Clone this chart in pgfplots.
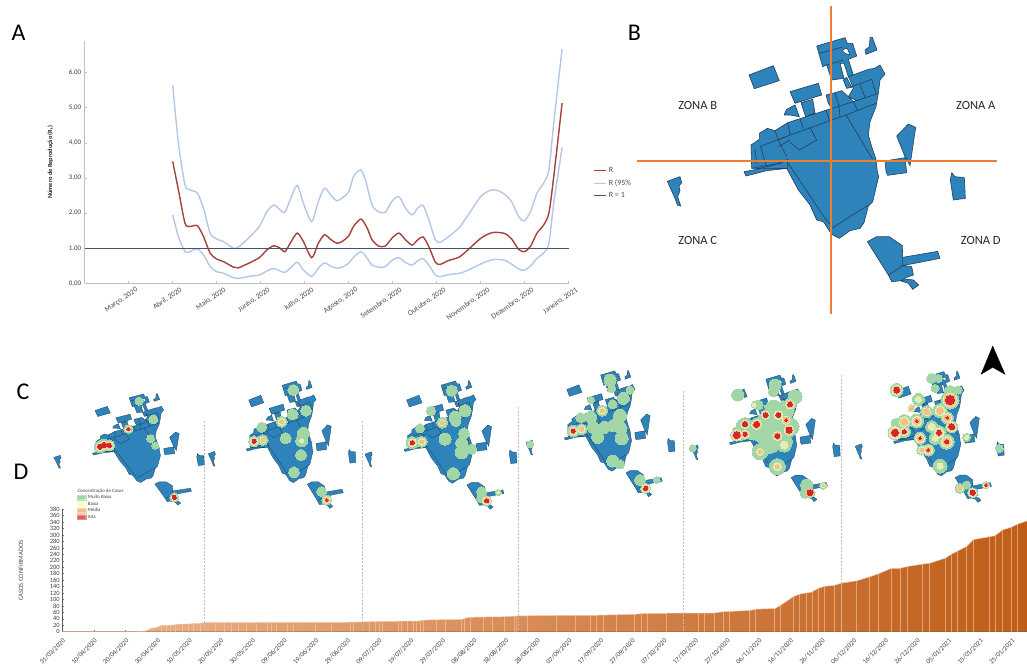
\documentclass[border=0pt]{standalone}
\usepackage{fontspec}
\setmainfont{Carlito}
\usepackage{pgfplots}
\usepackage{pgfplotstable}
\pgfplotsset{compat=1.18}

\definecolor{rred}{HTML}{A5403C}
\definecolor{rblue}{HTML}{B4C7E7}
\definecolor{rone}{HTML}{44546A}
\definecolor{axgrey}{HTML}{BFBFBF}
\definecolor{mapblue}{HTML}{2E83BA}
\definecolor{mapline}{HTML}{22405A}
\definecolor{zoneor}{HTML}{ED7D31}
\definecolor{heatg}{HTML}{A3D6A7}
\definecolor{heaty}{HTML}{E4EDB3}
\definecolor{heato}{HTML}{F3C08A}
\definecolor{heatr}{HTML}{D5272B}
\definecolor{legendy}{HTML}{FBFBC4}
\definecolor{legendr}{HTML}{E4595F}
\definecolor{caselight}{HTML}{EFB68E}
\definecolor{casedark}{HTML}{BF5D18}
\definecolor{casecomb}{HTML}{F3C9A8}

% panel A: month index, value
\pgfplotstableread{
x y
2 3.47
2.13 2.66
2.28 1.71
2.39 1.62
2.56 1.64
2.70 1.33
2.85 0.86
3.0 0.69
3.15 0.62
3.38 0.46
3.49 0.44
3.76 0.59
3.98 0.74
4.14 0.95
4.30 1.07
4.44 1.0
4.55 0.90
4.67 1.14
4.83 1.43
4.97 1.19
5.16 0.73
5.31 1.14
5.45 1.38
5.60 1.24
5.73 1.14
5.85 1.19
6.0 1.35
6.11 1.62
6.28 1.83
6.42 1.57
6.53 1.24
6.68 1.06
6.83 1.06
6.98 1.28
7.14 1.43
7.29 1.24
7.44 1.09
7.57 1.24
7.69 1.32
7.82 1.05
7.97 0.60
8.08 0.54
8.27 0.65
8.50 0.74
8.69 0.93
9.0 1.28
9.22 1.43
9.37 1.45
9.56 1.41
9.71 1.25
9.86 0.97
9.99 0.90
10.13 1.05
10.28 1.43
10.43 1.66
10.55 2.0
10.66 3.04
10.85 5.13
}\tableR
\pgfplotstableread{
x y
2 5.64
2.13 3.99
2.28 2.80
2.39 2.66
2.56 2.57
2.70 2.14
2.85 1.43
3.0 1.26
3.15 1.19
3.38 1.0
3.49 1.03
3.76 1.33
3.98 1.64
4.14 2.04
4.30 2.23
4.44 2.09
4.55 2.02
4.67 2.38
4.83 2.79
4.97 2.28
5.16 1.76
5.31 2.33
5.45 2.71
5.60 2.50
5.73 2.35
5.85 2.43
6.0 2.61
6.11 3.04
6.27 3.23
6.38 2.95
6.53 2.23
6.68 2.04
6.83 2.02
6.98 2.33
7.14 2.47
7.29 2.14
7.44 1.95
7.57 2.14
7.69 2.22
7.82 1.81
7.97 1.24
8.08 1.17
8.27 1.33
8.50 1.57
8.69 1.90
9.0 2.47
9.22 2.65
9.37 2.65
9.56 2.52
9.71 2.31
9.86 1.90
9.99 1.78
10.13 2.04
10.28 2.57
10.43 2.85
10.55 3.23
10.66 4.56
10.85 6.67
}\tableUp
\pgfplotstableread{
x y
2 1.95
2.13 1.33
2.28 0.90
2.39 0.90
2.56 0.98
2.70 0.81
2.85 0.48
3.0 0.33
3.15 0.29
3.38 0.16
3.49 0.14
3.76 0.20
3.98 0.24
4.14 0.35
4.30 0.42
4.44 0.35
4.55 0.31
4.67 0.43
4.83 0.60
4.97 0.38
5.16 0.20
5.31 0.43
5.45 0.58
5.60 0.48
5.73 0.43
5.85 0.46
6.0 0.57
6.11 0.74
6.28 0.90
6.42 0.71
6.53 0.52
6.68 0.46
6.83 0.47
6.98 0.65
7.14 0.73
7.29 0.59
7.44 0.52
7.57 0.64
7.69 0.70
7.82 0.52
7.97 0.24
8.08 0.19
8.27 0.25
8.50 0.28
8.69 0.36
9.0 0.55
9.22 0.66
9.37 0.68
9.56 0.65
9.71 0.54
9.86 0.41
9.99 0.37
10.13 0.49
10.28 0.71
10.43 0.86
10.55 1.14
10.66 2.28
10.85 3.87
}\tableLow

% panel D: days since 31/03/2020, confirmed cases
\pgfplotstableread{
d c
0 0
23 0
26.3 2
28.2 11
29.8 13
31.2 19
35.6 21
36.1 23
39.8 24
43.5 26
44.8 28
73 29
88 29
94.8 30
100.4 32
112.5 33
114.1 36
118.3 37
126.2 38
128.3 44.5
133 45.5
139.9 46.6
143.6 48.7
149.9 50
168.8 51
181 54
183.1 56
195.2 58
205.7 58
208.9 62
217.3 66
219.4 70
225.2 72
226.8 81
231 109
233.1 117
236.8 123
238.9 135
241 141
244 144
246.3 151
251 158
254.7 169
257.9 180
262.1 197
264.7 197
267.3 203
274.2 213
278.9 228
281 241
285.8 265
287.9 286
294.7 298
297.1 316
300 325
301.8 334
304.8 344
}\tableCases
\pgfplotstableread{
d c
31.2 19
32.8 19
34 20
35.6 21
38 23.5
39.8 24
41.4 25
43.5 26
48.3 28
51.1 28
53.5 28
55.6 28
58.3 28
61.2 28
64.9 28
66.2 28
67.8 28
71.1 29
73 29
79.9 29
85.1 29
90.9 29
91.9 29
96.9 30
99 31
100.1 32
101.2 32
106.3 32
107.2 32
109.1 32
110.9 33
111.9 33
113 34
114 36
118.2 37
120.9 37
126.1 38
126.9 40
129 44.5
133 45.5
135.9 46
139.8 46.6
142.7 48
143.5 48.7
146.9 49
156 50
162 50.5
167 51
168.8 51
170.9 51.5
175.1 52
180.9 54
183 56
184.8 56.5
190.9 57
201 58
202.9 58
206 59
208.9 62
210.8 63
217.1 66
219 70
225 72
226.8 81
231 109
232.9 116
235 120
237 123
238.9 135
240.8 141
244 144
246.1 151
251 158
255 169
257.9 180
261.9 197
264.7 197
267 203
271.8 208
274 213
279.1 228
281 241
282.8 250
285.8 265
287.9 286
292.9 295
294.7 298
297 316
300 325
301.8 334
}\tableSteps

% map outlines, traced at 3x in panel B (nan = next polygon)
\pgfplotstableread{
x y
335 505
333 435
358 418
358 400
382 385
405 392
443 368
480 356
560 330
640 305
715 280
708 320
690 365
685 405
695 440
708 478
712 515
716 530
698 605
685 618
672 668
660 685
630 692
612 705
598 715
575 703
550 665
530 660
510 615
475 570
440 505
335 505
nan nan
312 515
350 508
400 495
443 480
443 505
380 512
318 528
312 515
nan nan
625 230
685 208
703 205
720 195
735 222
720 240
715 280
650 302
625 290
640 265
630 240
625 230
nan nan
558 285
585 278
605 272
625 290
640 305
575 325
565 310
558 285
nan nan
450 275
535 250
545 285
465 310
450 275
nan nan
483 308
518 298
525 338
497 350
483 308
nan nan
432 345
440 328
465 315
478 350
450 345
432 345
nan nan
327 225
400 197
418 242
343 266
327 225
nan nan
530 138
615 113
622 130
638 130
650 168
625 178
640 225
625 230
612 190
600 190
612 235
575 240
560 195
548 200
530 138
nan nan
620 232
635 262
620 265
610 240
620 232
nan nan
690 112
697 112
711 150
678 163
675 150
688 140
690 112
nan nan
770 408
805 372
827 382
810 497
795 470
770 408
nan nan
735 483
795 473
800 518
743 526
738 515
735 483
nan nan
935 518
945 530
973 533
976 595
940 600
931 540
935 518
nan nan
82 544
120 530
125 548
117 558
120 572
113 590
122 618
112 615
105 595
82 544
nan nan
682 725
710 710
748 710
787 737
788 772
893 754
900 775
788 797
815 800
820 825
800 832
785 842
755 845
745 825
682 725
nan nan
780 842
803 838
820 840
836 855
818 868
805 850
780 842
}\tableMap
% inner boundaries
\pgfplotstableread{
x y
360 440
450 405
570 362
618 345
708 310
nan nan
480 356
490 385
nan nan
618 345
698 478
nan nan
440 483
555 655
570 672
nan nan
575 685
685 615
nan nan
452 428
478 450
530 420
510 382
nan nan
405 392
415 420
440 470
nan nan
415 420
450 405
443 368
nan nan
415 440
450 420
nan nan
345 448
350 490
nan nan
362 440
378 497
nan nan
335 505
378 497
420 490
443 478
nan nan
558 330
568 362
nan nan
597 318
600 350
nan nan
640 305
652 330
nan nan
630 262
695 238
nan nan
660 255
675 292
nan nan
695 238
708 280
nan nan
585 278
597 318
nan nan
537 160
605 142
nan nan
560 195
610 180
nan nan
745 825
788 797
788 772
}\tableInner
\pgfplotstableread{
x y
605 150
622 145
630 165
615 160
605 150
}\tableHole

% case concentration spots, x y at 3x crop scale, radii of the four levels
\pgfplotstableread{
x y g w o r
297 93 4 0 0 0
340 148 4.5 0 0 0
265 177 4.5 2.8 2 1.7
180 230 6 4 3 2.5
192 225 6 4 3 2.5
208 226 5.5 4 3 2
332 206 4 0 0 0
346 227 3.5 0 0 0
403 382 4.5 3 2.2 2
}\spotsA
\pgfplotstableread{
x y g w o r
760 60 5.5 0 0 0
758 133 5.5 0 0 0
798 122 5.5 0 0 0
725 155 5.5 3.5 2 0
665 172 5 0 0 0
642 214 5.5 4 3 2
668 210 5.5 3 2 0
737 205 5.5 0 0 0
790 190 6 0 0 0
785 212 6 2 0 0
783 255 5.5 0 0 0
762 307 5.5 0 0 0
845 365 5 0 0 0
860 390 5 3.5 2.5 1.5
}\spotsB
\pgfplotstableread{
x y g w o r
275 47 5.5 0 0 0
213 108 4.5 0 0 0
247 143 5.5 3 2 0
285 127 6 0 0 0
287 140 5 0 0 0
315 107 6 0 0 0
255 192 6 0 0 0
180 160 4.5 0 0 0
157 203 6 4 3 2
185 200 5.5 3.5 2 0
312 175 5.5 0 0 0
305 205 6 0 0 0
305 232 6.5 0 0 0
335 222 5 0 0 0
280 296 6 0 0 0
365 350 5 0 0 0
380 377 5 4 3 2
415 352 3 1.5 0 0
362 370 4 0 0 0
}\spotsC
\pgfplotstableread{
x y g w o r
285 15 6 0 0 0
290 40 4 0 0 0
325 70 6 0 0 0
345 45 4 0 0 0
228 75 3.5 0 0 0
262 107 5.5 3.5 2 0
293 88 4.5 0 0 0
227 127 6 0 0 0
197 128 5 0 0 0
175 168 6 4 3 2
200 163 5.5 3.5 2 0
235 157 6 0 0 0
268 157 6 0 0 0
295 152 6 0 0 0
315 122 6.5 0 0 0
318 160 6 0 0 0
320 190 6.5 0 0 0
248 187 6 0 0 0
293 258 6 0 0 0
315 268 4.5 0 0 0
45 208 3.5 0 0 0
375 315 5.5 0 0 0
392 340 5 4 3 2
425 315 3.5 0 0 0
}\spotsD
\pgfplotstableread{
x y g w o r
255 45 6 0 0 0
250 65 5 0 0 0
143 75 6 0 0 0
205 105 5 0 0 0
285 120 9 0 0 0
315 80 7 0 0 0
250 115 8 0 0 0
300 170 9 0 0 0
230 160 11 0 0 0
190 180 10 0 0 0
260 170 10 0 0 0
165 170 9 0 0 0
148 190 7.5 0 0 0
240 220 10 0 0 0
280 215 9 0 0 0
220 190 10 0 0 0
210 245 8 3.5 2 0
283 225 7 4 0 0
262 290 8 4 2 0
350 345 6 0 0 0
345 370 5 0 0 0
300 103 6 4.5 3.5 2.5
227 135 5.5 4 3 2.5
265 135 6 4.5 3 2.5
200 163 6 5 4 3
165 162 6 4 3 2.5
140 195 6 5.5 4.5 3.5
165 193 5 4 3 2
288 150 6 4 3 1.5
297 180 7 5 4 3
262 198 6 4.5 3.5 2.5
193 105 3 2 0 0
360 368 5 4 4 3
400 347 3.5 2 1 0
8 235 3.5 0 0 0
}\spotsE
\pgfplotstableread{
x y g w o r
110 60 6.5 5 4 3
270 90 9 7 6 4.5
215 25 5 0 0 0
235 25 4 0 0 0
225 55 4 0 0 0
270 65 6 0 0 0
175 88 6 3 0 0
295 60 4 0 0 0
155 115 3.5 3 2 0
200 125 6 4 3 0
240 122 7 5 3.5 0
262 143 6 4.5 3.5 1.5
275 170 6 5 4 3
170 153 7 5 3.5 1.5
133 155 7 5 3.5 0
105 188 7 6 4.5 3.5
133 185 6 4 3 2
108 160 5 0 0 0
237 188 7 5 3.5 2.5
215 170 6 3.5 0 0
180 205 6 4.5 3 1.5
260 215 7.5 5.5 4 2
225 205 6 3 0 0
185 240 5 3.5 2 0
205 240 6 4.5 3 1.5
240 288 7 3 0 0
300 355 5 3 2 0
338 368 5 4 3 2.5
378 345 3.5 2.5 2 1.5
320 345 4 0 0 0
320 202 4 2 0 0
418 235 4 0 0 0
}\spotsF

% #1 ox, #2 oy, #3 sx, #4 sy, #5 line width
\newcommand{\drawmap}[5]{%
  \addplot[unbounded coords=jump, fill=mapblue, draw=mapline, line width=#5pt, no markers]
    table[x expr=#1+#3*\thisrow{x}/3, y expr=#2+#4*\thisrow{y}/3] {\tableMap};
  \addplot[unbounded coords=jump, draw=mapline, line width=#5pt, no markers]
    table[x expr=#1+#3*\thisrow{x}/3, y expr=#2+#4*\thisrow{y}/3] {\tableInner};
  \addplot[fill=white, draw=mapline, line width=#5pt, no markers]
    table[x expr=#1+#3*\thisrow{x}/3, y expr=#2+#4*\thisrow{y}/3] {\tableHole};
}
% #1 table, #2 ox, #3 oy, #4 column, #5 colour
\newcommand{\heatlayer}[5]{%
  \addplot[scatter, only marks, mark=*, unbounded coords=discard,
    scatter/use mapped color={draw=#5, fill=#5, line width=0pt},
    visualization depends on={\thisrow{#4} \as \spotr},
    scatter/@pre marker code/.append style={/tikz/mark size=\spotr}]
    table[x expr=#2+\thisrow{x}/3, y expr={\thisrow{#4}>0 ? #3+\thisrow{y}/3 : nan}] {#1};
}
\newcommand{\heat}[3]{%
  \heatlayer{#1}{#2}{#3}{g}{heatg}
  \heatlayer{#1}{#2}{#3}{w}{heaty}
  \heatlayer{#1}{#2}{#3}{o}{heato}
  \heatlayer{#1}{#2}{#3}{r}{heatr}
}
\newcommand{\swatch}[2]{%
  \addplot[fill=#2, draw=#2!70!white, line width=.2pt, no markers] coordinates
    {(77.3,#1-2.3) (85.7,#1-2.3) (85.7,#1+2.3) (77.3,#1+2.3) (77.3,#1-2.3)};
}

\begin{document}
\begin{tikzpicture}[x=1pt,y=1pt]
\useasboundingbox (0,0) rectangle (1027,665);

% panel A
\begin{axis}[
    at={(84.7pt,381.7pt)}, anchor=south west,
    scale only axis, width=484pt, height=242.3pt,
    xmin=0, xmax=11, ymin=0, ymax=6.9,
    axis x line*=bottom, axis y line*=left,
    axis line style={axgrey, line width=1pt, -},
    tick style={axgrey, line width=.6pt},
    major tick length=2.5pt,
    xtick={0,1,...,11},
    xticklabels={{},{Março, 2020},{Abril, 2020},{Maio, 2020},{Junho, 2020},{Julho, 2020},{Agosto, 2020},{Setembro, 2020},{Outubro, 2020},{Novembro, 2020},{Dezembro, 2020},{Janeiro, 2021}},
    xticklabel style={rotate=35, anchor=north east, xshift=7pt, yshift=-3pt, font=\fontsize{7.5}{8}\selectfont, text=black!70},
    ytick={0,1,...,6},
    yticklabel style={font=\fontsize{7}{8}\selectfont, text=black!75},
    /pgf/number format/.cd, use comma, fixed, fixed zerofill, precision=2, assume math mode=true, /pgfplots/.cd,
    ylabel={\textbf{Número de Reprodução (R\textsubscript{t})}},
    ylabel style={font=\fontsize{6.3}{7}\selectfont, text=black!85, at={(axis description cs:-0.058,0.5)}, anchor=south},
    clip=false,
    legend style={at={(axis cs:11.55,3.36)}, anchor=north west, draw=none, fill=none, font=\fontsize{8}{9}\selectfont, text=black!70, inner sep=0pt, row sep=1.5pt},
    legend cell align=left,
    legend image code/.code={\draw[#1, line width=1.2pt] (0pt,0pt) -- (12.5pt,0pt);},
]
\addplot[rred, line width=1.4pt, smooth, tension=0.45, no markers] table[x=x,y=y] {\tableR};
\addlegendentry{R}
\addplot[rblue, line width=1.4pt, smooth, tension=0.45, no markers] table[x=x,y=y] {\tableUp};
\addlegendentry{R (95\%}
\addplot[rblue, line width=1.4pt, smooth, tension=0.45, no markers, forget plot] table[x=x,y=y] {\tableLow};
\addplot[rone, line width=1.2pt, no markers] coordinates {(0,1) (11,1)};
\addlegendentry{R = 1}
\end{axis}

% panel D
\begin{axis}[
    at={(62.3pt,33.3pt)}, anchor=south west,
    scale only axis, width=964.7pt, height=122.4pt,
    xmin=0, xmax=304.8, ymin=0, ymax=380,
    axis x line*=bottom, axis y line*=left,
    axis line style={black!65, line width=.8pt, -},
    tick style={black!55, line width=.5pt},
    major tick length=2pt,
    xtick={0,10,...,300},
    xticklabels={31/03/2020,10/04/2020,20/04/2020,30/04/2020,10/05/2020,20/05/2020,30/05/2020,09/06/2020,19/06/2020,29/06/2020,09/07/2020,19/07/2020,29/07/2020,08/08/2020,18/08/2020,28/08/2020,07/09/2020,17/09/2020,27/09/2020,07/10/2020,17/10/2020,27/10/2020,06/11/2020,16/11/2020,26/11/2020,06/12/2020,16/12/2020,26/12/2020,05/01/2021,15/01/2021,25/01/2021},
    xticklabel style={rotate=45, anchor=north east, xshift=-1pt, yshift=-1pt, font=\fontsize{6.8}{8}\selectfont, text=black!75},
    ytick={0,20,...,380},
    yticklabel style={font=\fontsize{6.5}{7}\selectfont, text=black!75, xshift=1pt},
    /pgf/number format/assume math mode=true,
    ylabel={CASOS CONFIRMADOS},
    ylabel style={font=\fontsize{6.6}{7}\selectfont, text=black!70, at={(axis description cs:-0.037,0.5)}, anchor=south},
    clip=true,
]
\addplot[draw=none, left color=caselight, right color=casedark] table[x=d,y=c] {\tableCases} \closedcycle;
\addplot[ycomb, color=casecomb, opacity=.6, line width=.8pt, no markers] table[x=d,y=c] {\tableSteps};
\addplot[casecomb, line width=.5pt, no markers] table[x=d,y=c] {\tableCases};
\end{axis}

% maps and everything else, in picture pixels
\begin{axis}[
    at={(0pt,0pt)}, anchor=south west,
    scale only axis, width=1027pt, height=665pt,
    xmin=0, xmax=1027, ymin=0, ymax=665, y dir=reverse,
    axis lines=none, clip=false,
]
% dashed dividers
\addplot[black!25, line width=.6pt, dash pattern=on 2pt off 1.5pt, no markers] coordinates {(204.4,421) (204.4,631)};
\addplot[black!25, line width=.6pt, dash pattern=on 2pt off 1.5pt, no markers] coordinates {(362.4,421) (362.4,631)};
\addplot[black!25, line width=.6pt, dash pattern=on 2pt off 1.5pt, no markers] coordinates {(518.3,407) (518.3,631)};
\addplot[black!25, line width=.6pt, dash pattern=on 2pt off 1.5pt, no markers] coordinates {(683.3,391) (683.3,631)};
\addplot[black!25, line width=.6pt, dash pattern=on 2pt off 1.5pt, no markers] coordinates {(841.7,375) (841.7,631)};

% panel B
\drawmap{640}{0}{1}{1}{.6}
\addplot[zoneor, line width=1.7pt, no markers] coordinates {(637,160.7) (997,160.7)};
\addplot[zoneor, line width=1.7pt, no markers] coordinates {(830.7,6) (830.7,314)};

% panel C
\drawmap{40}{377.4}{.505}{.441}{.3}
\heat{\spotsA}{40}{370}
\drawmap{194.8}{362}{.495}{.506}{.3}
\heat{\spotsB}{40}{370}
\drawmap{351}{361.7}{.51}{.51}{.3}
\heat{\spotsC}{360}{375}
\drawmap{512.3}{352}{.5}{.5}{.3}
\heat{\spotsD}{515}{375}
\drawmap{677.5}{356.1}{.5}{.503}{.3}
\heat{\spotsE}{690}{370}
\drawmap{841.5}{352}{.5}{.52}{.3}
\heat{\spotsF}{860}{370}

% north arrow
\addplot[fill=black, draw=black, no markers, line width=.3pt] coordinates {(992.7,346) (1005,374.3) (992.7,367.3) (981,374.3) (992.7,346)};

% case legend
\swatch{497.3}{heatg}
\swatch{503.7}{legendy}
\swatch{510.3}{heato}
\swatch{517}{legendr}
\node[anchor=west, inner sep=0pt, font=\fontsize{4.9}{5}\selectfont, text=black!75] at (axis cs:77.3,491) {Concentração de Casos};
\node[anchor=west, inner sep=0pt, font=\fontsize{4.9}{5}\selectfont, text=black!75] at (axis cs:87.7,497.3) {Muito Baixa};
\node[anchor=west, inner sep=0pt, font=\fontsize{4.9}{5}\selectfont, text=black!75] at (axis cs:87.7,503.7) {Baixa};
\node[anchor=west, inner sep=0pt, font=\fontsize{4.9}{5}\selectfont, text=black!75] at (axis cs:87.7,510.3) {Média};
\node[anchor=west, inner sep=0pt, font=\fontsize{4.9}{5}\selectfont, text=black!75] at (axis cs:87.7,517) {Alta};

% zone names and panel letters
\node[font=\fontsize{12.5}{14}\selectfont, text=black!85] at (axis cs:697.7,105.7) {ZONA B};
\node[font=\fontsize{12.5}{14}\selectfont, text=black!85] at (axis cs:975.7,105.7) {ZONA A};
\node[font=\fontsize{12.5}{14}\selectfont, text=black!85] at (axis cs:697.7,240) {ZONA C};
\node[font=\fontsize{12.5}{14}\selectfont, text=black!85] at (axis cs:980.7,240) {ZONA D};
\node[font=\fontsize{24}{26}\selectfont] at (axis cs:18.5,33) {A};
\node[font=\fontsize{24}{26}\selectfont] at (axis cs:634.5,33) {B};
\node[font=\fontsize{24}{26}\selectfont] at (axis cs:23,392) {C};
\node[font=\fontsize{24}{26}\selectfont] at (axis cs:21,472) {D};
\end{axis}
\end{tikzpicture}
\end{document}
